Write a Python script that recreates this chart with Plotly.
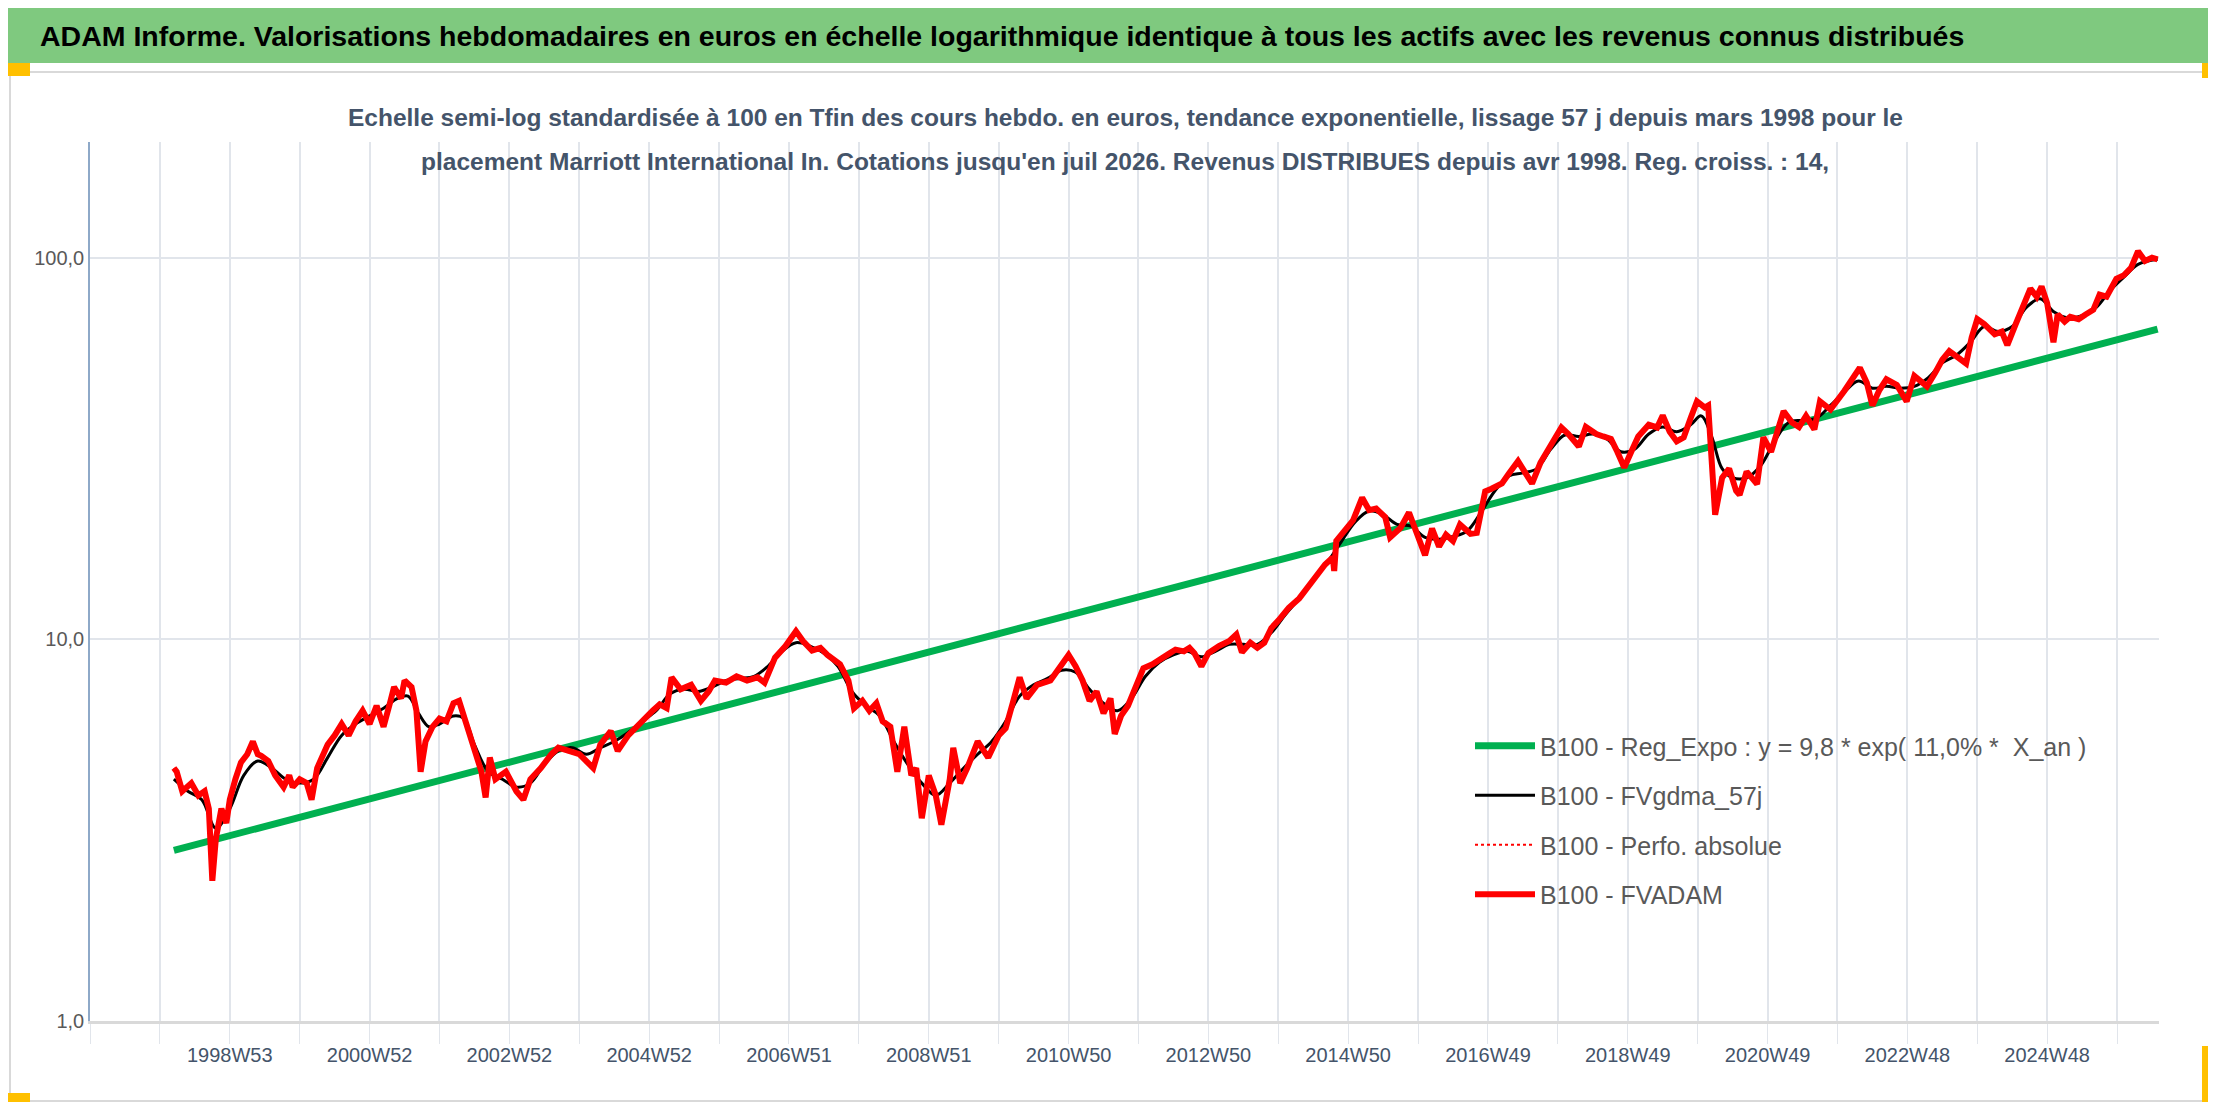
import plotly.graph_objects as go

title_main = "ADAM Informe. Valorisations hebdomadaires en euros en échelle logarithmique identique à tous les actifs avec les revenus connus distribués"
subtitle_1 = "Echelle semi-log standardisée à 100 en Tfin des cours hebdo. en euros, tendance exponentielle, lissage 57 j depuis mars 1998 pour le"
subtitle_2 = "placement Marriott International In. Cotations jusqu'en juil 2026. Revenus DISTRIBUES depuis avr 1998. Reg. croiss. : 14,"

tick_pos = [1999, 2001, 2003, 2005, 2007, 2009, 2011, 2013, 2015, 2017, 2019, 2021, 2023, 2025]
tick_labels = ["1998W53", "2000W52", "2002W52", "2004W52", "2006W51", "2008W51", "2010W50",
               "2012W50", "2014W50", "2016W49", "2018W49", "2020W49", "2022W48", "2024W48"]

fv_x = [1998.20,1998.24,1998.32,1998.45,1998.55,1998.64,1998.70,1998.75,1998.80,1998.88,1998.95,1999.00,1999.08,1999.16,1999.25,1999.33,1999.40,1999.45,1999.55,1999.65,1999.77,1999.85,1999.90,2000.00,2000.10,2000.17,2000.25,2000.40,2000.50,2000.60,2000.70,2000.80,2000.90,2001.00,2001.10,2001.20,2001.30,2001.35,2001.45,2001.50,2001.60,2001.67,2001.73,2001.80,2001.90,2002.00,2002.10,2002.20,2002.28,2002.40,2002.50,2002.60,2002.66,2002.72,2002.80,2002.95,2003.10,2003.20,2003.30,2003.45,2003.60,2003.70,2003.85,2004.00,2004.20,2004.30,2004.45,2004.55,2004.70,2004.85,2004.95,2005.05,2005.15,2005.25,2005.32,2005.45,2005.60,2005.74,2005.85,2005.94,2006.10,2006.25,2006.40,2006.55,2006.65,2006.80,2006.95,2007.10,2007.20,2007.33,2007.45,2007.55,2007.73,2007.85,2007.93,2008.05,2008.15,2008.25,2008.34,2008.45,2008.55,2008.65,2008.75,2008.82,2008.90,2009.00,2009.10,2009.18,2009.30,2009.35,2009.45,2009.55,2009.70,2009.85,2010.00,2010.10,2010.20,2010.30,2010.40,2010.55,2010.74,2010.85,2011.00,2011.10,2011.20,2011.30,2011.40,2011.50,2011.60,2011.66,2011.75,2011.85,2011.95,2012.07,2012.20,2012.30,2012.45,2012.53,2012.65,2012.73,2012.80,2012.90,2013.00,2013.15,2013.30,2013.40,2013.48,2013.60,2013.70,2013.80,2013.90,2014.00,2014.15,2014.30,2014.42,2014.55,2014.67,2014.78,2014.80,2014.83,2014.95,2015.07,2015.20,2015.30,2015.40,2015.53,2015.60,2015.75,2015.87,2015.95,2016.10,2016.20,2016.30,2016.40,2016.50,2016.60,2016.75,2016.84,2016.96,2017.05,2017.20,2017.30,2017.43,2017.55,2017.63,2017.75,2017.93,2018.05,2018.15,2018.30,2018.40,2018.55,2018.65,2018.76,2018.85,2018.95,2019.05,2019.15,2019.30,2019.42,2019.50,2019.60,2019.70,2019.80,2019.90,2019.99,2020.10,2020.15,2020.25,2020.35,2020.45,2020.55,2020.60,2020.70,2020.85,2020.94,2021.05,2021.23,2021.35,2021.45,2021.55,2021.67,2021.75,2021.90,2022.10,2022.20,2022.32,2022.42,2022.50,2022.60,2022.70,2022.85,2022.99,2023.10,2023.28,2023.40,2023.50,2023.60,2023.70,2023.84,2023.92,2024.00,2024.10,2024.25,2024.35,2024.43,2024.55,2024.65,2024.76,2024.85,2024.92,2025.00,2025.09,2025.15,2025.25,2025.33,2025.45,2025.55,2025.66,2025.75,2025.85,2025.99,2026.10,2026.20,2026.30,2026.40,2026.50,2026.58]
fv_y = [4.6,4.5,4.0,4.2,3.9,4.0,3.6,2.33,3.0,3.6,3.3,3.8,4.3,4.76,5.0,5.4,5.0,4.95,4.8,4.4,4.1,4.4,4.1,4.3,4.2,3.8,4.6,5.3,5.6,6.0,5.6,6.1,6.5,6.0,6.7,5.9,6.9,7.5,7.0,7.8,7.5,6.5,4.5,5.4,5.9,6.2,6.1,6.8,6.9,5.9,5.1,4.5,3.85,4.9,4.3,4.5,4.0,3.8,4.3,4.6,5.0,5.2,5.1,5.0,4.6,5.3,5.75,5.1,5.6,6.0,6.25,6.5,6.75,6.6,7.95,7.4,7.6,6.9,7.3,7.8,7.7,8.0,7.8,7.95,7.7,8.95,9.6,10.5,9.9,9.35,9.5,9.1,8.6,7.8,6.6,6.9,6.5,6.8,6.1,5.9,4.5,5.9,4.4,4.6,3.4,4.4,3.9,3.27,4.3,5.2,4.2,4.6,5.4,4.9,5.6,5.85,6.8,7.95,7.0,7.6,7.8,8.3,9.1,8.5,7.8,6.9,7.3,6.4,7.0,5.65,6.3,6.7,7.4,8.4,8.6,8.8,9.2,9.4,9.3,9.5,9.2,8.5,9.2,9.6,9.9,10.3,9.25,9.8,9.5,9.8,10.7,11.2,12.1,12.8,13.7,14.8,15.7,16.4,15.1,18.1,19.2,20.5,23.5,21.8,22.0,20.9,18.5,19.6,21.5,19.8,16.6,19.5,17.5,18.8,18.1,20.0,18.9,19.0,24.4,24.8,25.6,27.2,29.3,27.0,25.6,29.0,33.1,35.9,34.5,32.0,36.0,34.5,34.0,33.5,31.0,28.2,31.0,34.0,36.5,35.9,38.6,35.0,33.0,33.8,38.0,42.0,40.5,41.0,21.2,26.5,28.0,24.5,23.9,27.5,25.5,33.8,31.0,39.6,37.0,36.0,38.5,35.5,42.0,40.0,44.8,47.5,51.5,47.0,41.0,45.0,48.0,46.4,42.0,49.0,46.0,50.0,54.0,56.9,55.0,52.8,61.8,69.0,67.0,63.0,64.0,59.0,67.0,75.0,83.0,79.0,84.0,76.0,60.0,71.0,68.0,70.0,69.0,71.0,73.0,80.0,79.0,88.0,90.0,94.0,104.0,98.0,100.0,99.0]

ma_x = [1998.2,1998.4,1998.6,1998.8,1999.0,1999.2,1999.4,1999.6,1999.8,2000.0,2000.2,2000.4,2000.6,2000.8,2001.0,2001.2,2001.4,2001.55,2001.7,2001.85,2002.0,2002.2,2002.35,2002.5,2002.7,2002.9,2003.1,2003.3,2003.5,2003.7,2003.9,2004.1,2004.3,2004.5,2004.7,2004.9,2005.1,2005.3,2005.5,2005.7,2005.9,2006.1,2006.3,2006.5,2006.7,2006.9,2007.1,2007.3,2007.5,2007.7,2007.9,2008.1,2008.3,2008.5,2008.7,2008.9,2009.1,2009.3,2009.5,2009.7,2009.9,2010.1,2010.3,2010.5,2010.7,2010.9,2011.1,2011.3,2011.5,2011.7,2011.9,2012.1,2012.3,2012.5,2012.7,2012.9,2013.1,2013.3,2013.5,2013.7,2013.9,2014.1,2014.3,2014.5,2014.7,2014.9,2015.1,2015.3,2015.5,2015.7,2015.9,2016.1,2016.3,2016.5,2016.7,2016.9,2017.1,2017.3,2017.5,2017.7,2017.9,2018.1,2018.3,2018.5,2018.7,2018.9,2019.1,2019.3,2019.5,2019.7,2019.9,2020.05,2020.2,2020.35,2020.5,2020.7,2020.9,2021.1,2021.3,2021.5,2021.7,2021.9,2022.1,2022.3,2022.5,2022.7,2022.9,2023.1,2023.3,2023.5,2023.7,2023.9,2024.1,2024.3,2024.5,2024.7,2024.9,2025.1,2025.3,2025.5,2025.7,2025.9,2026.1,2026.3,2026.58]
ma_y = [4.3,4.0,3.8,3.2,3.6,4.4,4.8,4.6,4.3,4.2,4.3,4.9,5.6,6.0,6.3,6.6,7.0,7.1,6.4,5.9,6.0,6.3,6.2,5.3,4.5,4.3,4.1,4.2,4.7,5.1,5.2,5.0,5.2,5.4,5.7,6.1,6.5,7.2,7.4,7.3,7.5,7.8,7.9,8.0,8.5,9.3,9.8,9.6,9.2,8.5,7.3,6.7,6.3,5.4,4.7,4.2,3.9,4.2,4.6,5.0,5.4,6.1,7.1,7.6,7.9,8.3,8.2,7.4,6.8,6.5,7.0,8.0,8.7,9.1,9.3,9.0,9.3,9.7,9.7,9.7,10.4,11.6,12.8,14.3,15.9,18.0,20.3,21.7,21.2,20.0,19.8,18.5,18.3,18.6,19.2,21.5,24.5,26.8,27.3,28.0,31.5,34.3,34.0,34.5,33.5,31.0,31.5,34.5,36.0,35.0,36.5,38.5,34.0,28.0,26.5,26.5,28.5,33.0,37.0,37.5,38.0,41.0,44.5,47.5,45.5,46.0,45.5,46.0,48.5,53.0,55.5,60.0,66.0,64.0,66.0,74.0,78.0,72.0,69.5,70.5,74.0,82.0,89.0,96.0,99.0]

reg_x = [1998.2, 2026.58]
reg_y = [2.8, 65.0]

fig = go.Figure()
fig.add_trace(go.Scatter(x=reg_x, y=reg_y, mode="lines", name="B100 - Reg_Expo : y = 9,8 * exp( 11,0% *  X_an )",
                         legendgroup="a", line=dict(color="#00B050", width=7)))
fig.add_trace(go.Scatter(x=ma_x, y=ma_y, mode="lines", name="B100 - FVgdma_57j", legendgroup="b",
                         line=dict(color="black", width=3, shape="spline")))
fig.add_trace(go.Scatter(x=fv_x, y=fv_y, mode="lines", name="B100 - Perfo. absolue", legendgroup="c",
                         line=dict(color="#FF0000", width=2, dash="dot")))
fig.add_trace(go.Scatter(x=fv_x, y=fv_y, mode="lines", name="B100 - FVADAM", legendgroup="d",
                         line=dict(color="#FF0000", width=6)))

W, H = 2216, 1102
PW, PH = 2069, 879
fig.update_layout(
    width=W, height=H, autosize=False,
    margin=dict(l=82, r=65, t=134, b=89),
    paper_bgcolor="white", plot_bgcolor="white",
    font=dict(family="Liberation Sans, sans-serif", color="#595959"),
    showlegend=True,
    legend=dict(x=(1462-82)/PW, y=(1013-715)/PH, xanchor="left", yanchor="top",
                font=dict(size=25, color="#595959"), itemwidth=60, tracegroupgap=14, bgcolor="rgba(0,0,0,0)"),
    xaxis=dict(range=[1997.0, 2026.6], tickmode="array", tickvals=tick_pos, ticktext=tick_labels,
               showgrid=False, ticks="outside", ticklen=0, tickfont=dict(size=20, color="#44546A"),
               ticklabelstandoff=14,
               showline=True, linecolor="#D9D9D9", linewidth=3, zeroline=False,
               minor=dict(tick0=1997, dtick=1, showgrid=True, gridcolor="#E1E5EB", gridwidth=1.5,
                          ticks="outside", ticklen=20, tickcolor="#E1E5EB")),
    yaxis=dict(type="log", range=[0, 2.303], tickvals=[1, 10, 100], ticktext=["1,0", "10,0", "100,0"],
               showgrid=True, gridcolor="#E1E5EB", gridwidth=1.5, tickfont=dict(size=20, color="#595959"),
               showline=True, linecolor="#8EA9C8", linewidth=1.5, zeroline=False, ticks=""),
)

# banner
fig.add_shape(type="rect", xref="paper", yref="paper", x0=-82/PW, x1=(W-82)/PW,
              y0=1+(134-55)/PH, y1=1+134/PH, fillcolor="#7FC97F", line=dict(width=0), layer="below")
fig.add_annotation(text="<b>" + title_main + "</b>", xref="paper", yref="paper",
                   x=-(82-30)/PW, y=1+(134-28)/PH, xanchor="left", yanchor="middle", showarrow=False,
                   font=dict(size=28.5, color="black"))
for txt, yy in [(subtitle_1, 109), (subtitle_2, 153)]:
    fig.add_annotation(text="<b>" + txt + "</b>", xref="paper", yref="paper",
                       x=(1117-82)/PW, y=1+(134-yy)/PH, xanchor="center", yanchor="middle", showarrow=False,
                       font=dict(size=24.5, color="#44546A"))
# border and orange corner marks
fig.add_shape(type="rect", xref="paper", yref="paper", x0=-80/PW, x1=(2206-82)/PW,
              y0=-(1093-1013)/PH, y1=1+(134-64)/PH, line=dict(color="#D9D9D9", width=2), layer="below")
for (a, b, c, d) in [(0, 22, 55, 68), (2194, 2216, 55, 70), (0, 22, 1085, 1102), (2194, 2216, 1038, 1102)]:
    fig.add_shape(type="rect", xref="paper", yref="paper", x0=(a-82)/PW, x1=(b-82)/PW,
                  y0=(1013-d)/PH, y1=(1013-c)/PH, fillcolor="#FFC000", line=dict(width=0))

fig.write_html("out.html")
